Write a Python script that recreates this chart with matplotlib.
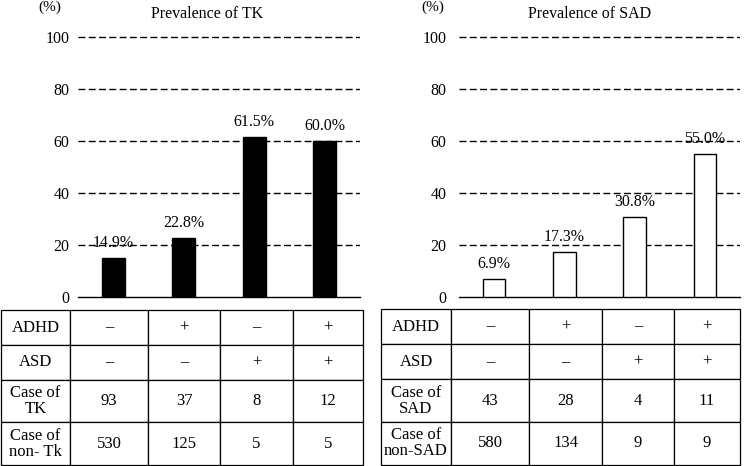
import matplotlib
matplotlib.use('Agg')
import matplotlib.pyplot as plt

plt.rcParams['font.family'] = ['Liberation Serif', 'DejaVu Serif']

# Data
groups = ['ADHD-/ASD-', 'ADHD+/ASD-', 'ADHD-/ASD+', 'ADHD+/ASD+']
adhd_signs = ['\u2013', '+', '\u2013', '+']
asd_signs = ['\u2013', '\u2013', '+', '+']

tk_prevalence = [14.9, 22.8, 61.5, 60.0]
tk_cases = [93, 37, 8, 12]
tk_noncases = [530, 125, 5, 5]

sad_prevalence = [6.9, 17.3, 30.8, 55.0]
sad_cases = [43, 28, 4, 11]
sad_noncases = [580, 134, 9, 9]

yticks = [0, 20, 40, 60, 80, 100]

W, H = 744, 466
fig = plt.figure(figsize=(W / 100, H / 100), dpi=100)


def px_axes(x0, y0, x1, y1):
    # pixel box (top-left origin) -> figure axes
    return fig.add_axes([x0 / W, (H - y1) / H, (x1 - x0) / W, (y1 - y0) / H])


def draw_panel(bar_box, table_box, values, cases, noncases, face, title,
               title_x, pct_x, case_label, noncase_label, col_widths, pad):
    ax = px_axes(*bar_box)
    x = range(len(values))
    bars = ax.bar(x, values, width=0.32, color=face, edgecolor='black',
                  linewidth=1, zorder=3)
    for b, v in zip(bars, values):
        ax.annotate(f'{v:.1f}%', (b.get_x() + b.get_width() / 2, v),
                    xytext=(0, 5), textcoords='offset points',
                    ha='center', va='bottom', fontsize=11.5)
    ax.set_xlim(-0.5, 3.5)
    ax.set_ylim(0, 102.5)
    ax.set_yticks(yticks)
    ax.set_xticks([])
    ax.tick_params(axis='y', length=0, pad=pad, labelsize=11.5)
    for s in ['top', 'right', 'left']:
        ax.spines[s].set_visible(False)
    ax.spines['bottom'].set_linewidth(1)
    for t in yticks[1:]:
        ax.axhline(t, color='black', lw=1.0, ls=(0, (5, 2.4)), zorder=1)

    fig.text(title_x / W, 1 - 14 / H, title, ha='center', va='center',
             fontsize=11.5)
    fig.text(pct_x / W, 1 - 7 / H, '(%)', ha='center', va='center',
             fontsize=11)

    tax = px_axes(*table_box)
    tax.axis('off')
    rows = [['ADHD'] + adhd_signs,
            ['ASD'] + asd_signs,
            [case_label] + [str(c) for c in cases],
            [noncase_label] + [str(c) for c in noncases]]
    tw = sum(col_widths)
    tbl = tax.table(cellText=rows, colWidths=[w / tw for w in col_widths],
                    cellLoc='center', bbox=[0, 0, 1, 1])
    tbl.auto_set_font_size(False)
    tbl.set_fontsize(12)
    row_h = [35, 35, 42, 43]
    for (r, c), cell in tbl.get_celld().items():
        cell.set_height(row_h[r] / sum(row_h))
        cell.set_linewidth(0.9)
        cell.set_edgecolor('black')
        cell.PAD = 0.02
        cell.get_text().set_linespacing(1.0)
    return ax


draw_panel((78, 30, 360, 297), (1, 310, 363, 465), tk_prevalence,
           tk_cases, tk_noncases, 'black', 'Prevalence of TK', 207, 50,
           'Case of\nTK', 'Case of\nnon- Tk', [69, 78, 72, 73, 70], 6)
draw_panel((459, 30, 740, 297), (381, 309, 740, 465), sad_prevalence,
           sad_cases, sad_noncases, 'white', 'Prevalence of SAD', 590, 433,
           'Case of\nSAD', 'Case of\nnon-SAD', [70, 78, 73, 72, 66], 9)

fig.savefig('out.png', dpi=100)
